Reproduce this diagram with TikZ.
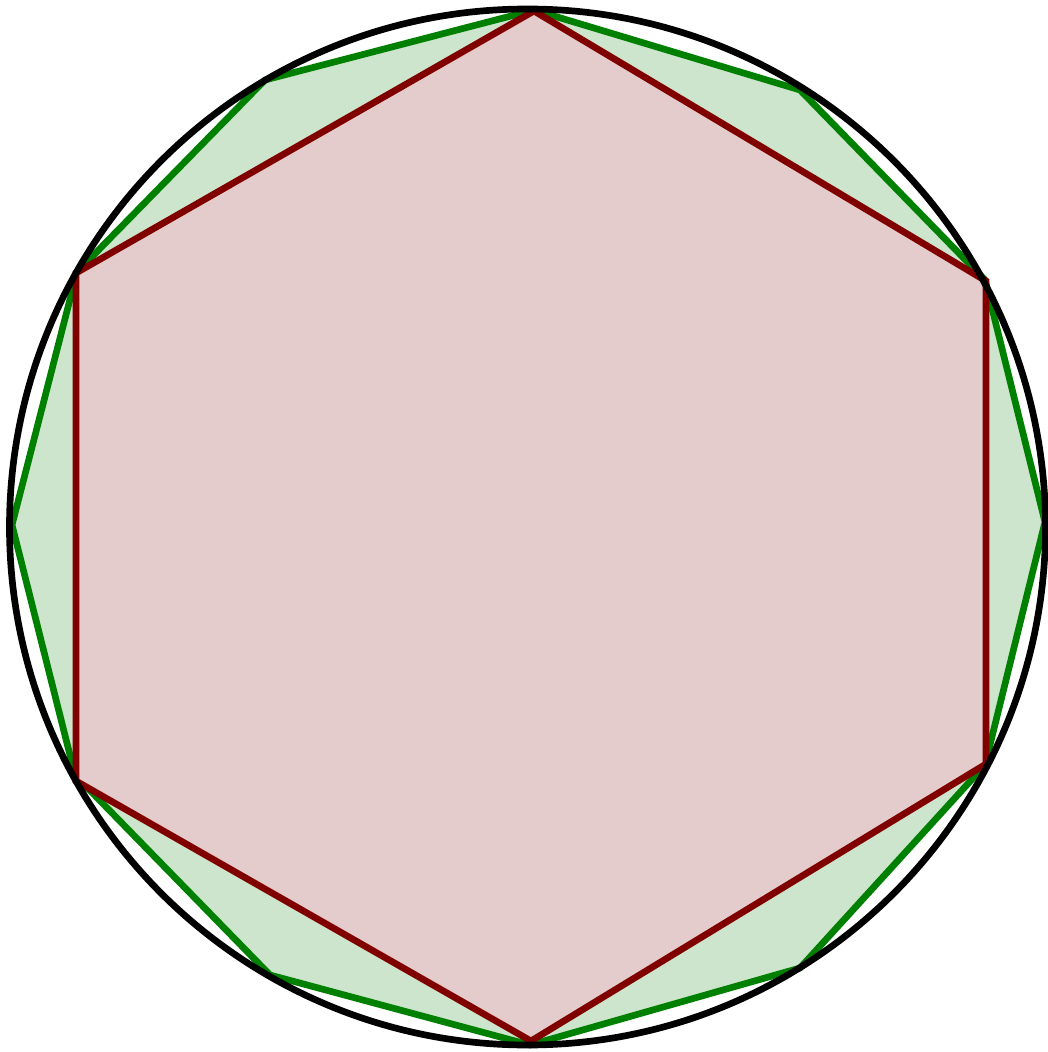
\documentclass[tikz,border=0pt]{standalone}
\definecolor{darkred}{rgb}{0.5,0,0}
\begin{document}
\begin{tikzpicture}[x=0.01cm,y=-0.01cm,line width=1.9pt]
  \useasboundingbox (0,0) rectangle (1047,1052);
  % twelve sided polygon
  \draw[green!50!black,fill=green!50!black!20]
    (534,10) -- (265,80) -- (77,272) -- (12,525) -- (75,775) -- (270,975)
    -- (530,1045) -- (800,968) -- (985,765) -- (1045,522) -- (985,280)
    -- (800,90) -- cycle;
  % hexagon
  \draw[darkred,fill=darkred!20]
    (534,11) -- (76,273) -- (76,781) -- (531,1041) -- (986,764)
    -- (986,281) -- cycle;
  \draw[black] (527.5,527) circle (518);
\end{tikzpicture}
\end{document}
